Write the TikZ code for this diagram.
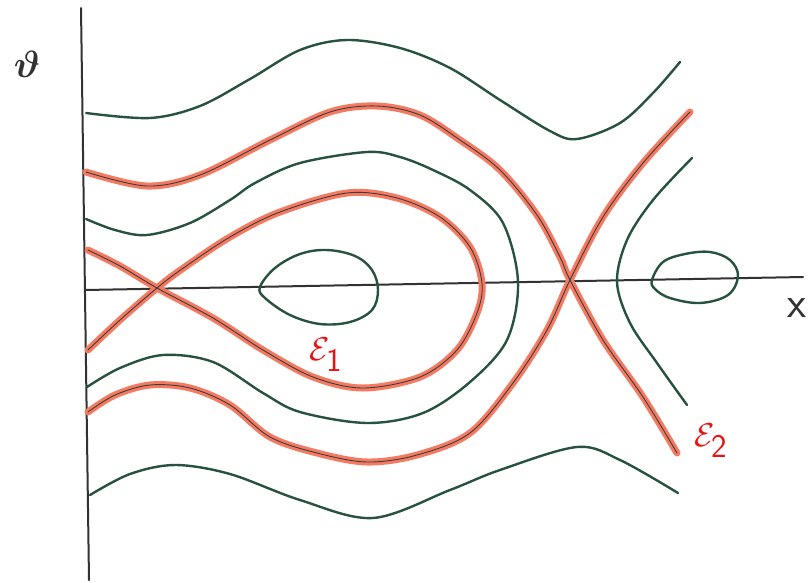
\documentclass[tikz,border=0pt]{standalone}
\usepackage{fix-cm}
\usepackage{bm}
\definecolor{orbit}{RGB}{40,82,64}
\definecolor{halo}{RGB}{244,122,98}
\definecolor{core}{RGB}{60,60,60}
\definecolor{axisc}{RGB}{50,50,50}
\definecolor{lblred}{RGB}{230,20,20}
\tikzset{
  orbitline/.style={draw=orbit,line width=2.4pt,line cap=round,line join=round},
  redhalo/.style={draw=halo,line width=7pt,line cap=round,line join=round},
  redcore/.style={draw=core,line width=0.9pt,line cap=round,line join=round},
  axisline/.style={draw=axisc,line width=2pt,line cap=round},
  sm/.style={smooth,tension=0.55}
}
\newcommand\outerA{(86,172) (147,186) (200,175) (270,140) (330,112) (377,106) (420,115) (460,140) (500,170) (537,215) (560,257) (570,280) (603,340) (643,397) (677,453)}
\newcommand\outerB{(88,412) (115,395) (150,385) (190,388) (230,405) (270,437) (317,453) (367,462) (417,455) (470,433) (513,383) (547,330) (570,280) (603,217) (643,163) (690,112)}
\newcommand\innerL{(88,250) (120,266) (157,288) (213,318) (263,350) (313,377) (363,388) (420,377) (457,350) (477,313) (482,283) (470,247) (440,217) (397,198) (347,193) (280,212) (230,237) (182,269) (157,288) (120,320) (88,350)}
\begin{document}
\begin{tikzpicture}[x=1pt,y=-1pt]
\useasboundingbox (0,0) rectangle (809,582);
\fill[white] (0,0) rectangle (809,582);
% axes
\coordinate (vtop) at (81,8);
\coordinate (vbot) at (89,580);
\coordinate (hleft) at (85,290);
\coordinate (hright) at (803,277);
\draw[axisline] (vtop) -- (vbot);
\draw[axisline] (hleft) -- (hright);
% green orbits
\draw[orbitline] plot[sm] coordinates {(86,113) (150,118) (200,106) (250,79) (300,50) (347,40) (400,48) (450,68) (500,100) (550,131) (577,139) (620,123) (653,93) (680,62)};
\draw[orbitline] plot[sm] coordinates {(87,387) (120,368) (163,355) (213,362) (263,393) (300,412) (367,423) (423,413) (470,382) (507,340) (518,282) (503,223) (470,190) (433,170) (400,157) (367,152) (300,163) (255,183) (230,200) (190,223) (147,235) (115,230) (86,219)};
\draw[orbitline] plot[sm] coordinates {(692,158) (653,200) (627,240) (617,282) (630,323) (657,363) (687,405)};
\draw[orbitline] plot[sm] coordinates {(90,495) (130,474) (175,465) (230,474) (300,500) (373,518) (450,490) (500,470) (577,447) (620,460) (678,493)};
\draw[orbitline] plot[smooth cycle,tension=0.6] coordinates {(260,287) (275,268) (300,254) (327,250) (355,256) (372,270) (378,290) (372,310) (350,322) (320,324) (290,315) (265,298)};
\draw[orbitline] plot[smooth cycle,tension=0.6] coordinates {(652,280) (663,262) (685,254) (710,252) (730,260) (738,276) (728,295) (700,303) (670,298) (655,289)};
% separatrices
\draw[redhalo] plot[sm] coordinates {\outerA};
\draw[redhalo] plot[sm] coordinates {\outerB};
\draw[redhalo] plot[sm] coordinates {\innerL};
\draw[redcore] plot[sm] coordinates {\outerA};
\draw[redcore] plot[sm] coordinates {\outerB};
\draw[redcore] plot[sm] coordinates {\innerL};
% labels
\node[text=axisc,font=\fontsize{38}{44}\selectfont] (theta) at (27,64) {$\bm{\vartheta}$};
\node[text=axisc,font=\fontsize{44}{50}\selectfont\sffamily] (xlab) at (797,308) {x};
\node[text=lblred,font=\fontsize{33}{40}\selectfont] (e1) at (326,355) {$\mathcal{E}_{\textsf{1}}$};
\node[text=lblred,font=\fontsize{33}{40}\selectfont] (e2) at (711,441) {$\mathcal{E}_{\textsf{2}}$};
\end{tikzpicture}
\end{document}
